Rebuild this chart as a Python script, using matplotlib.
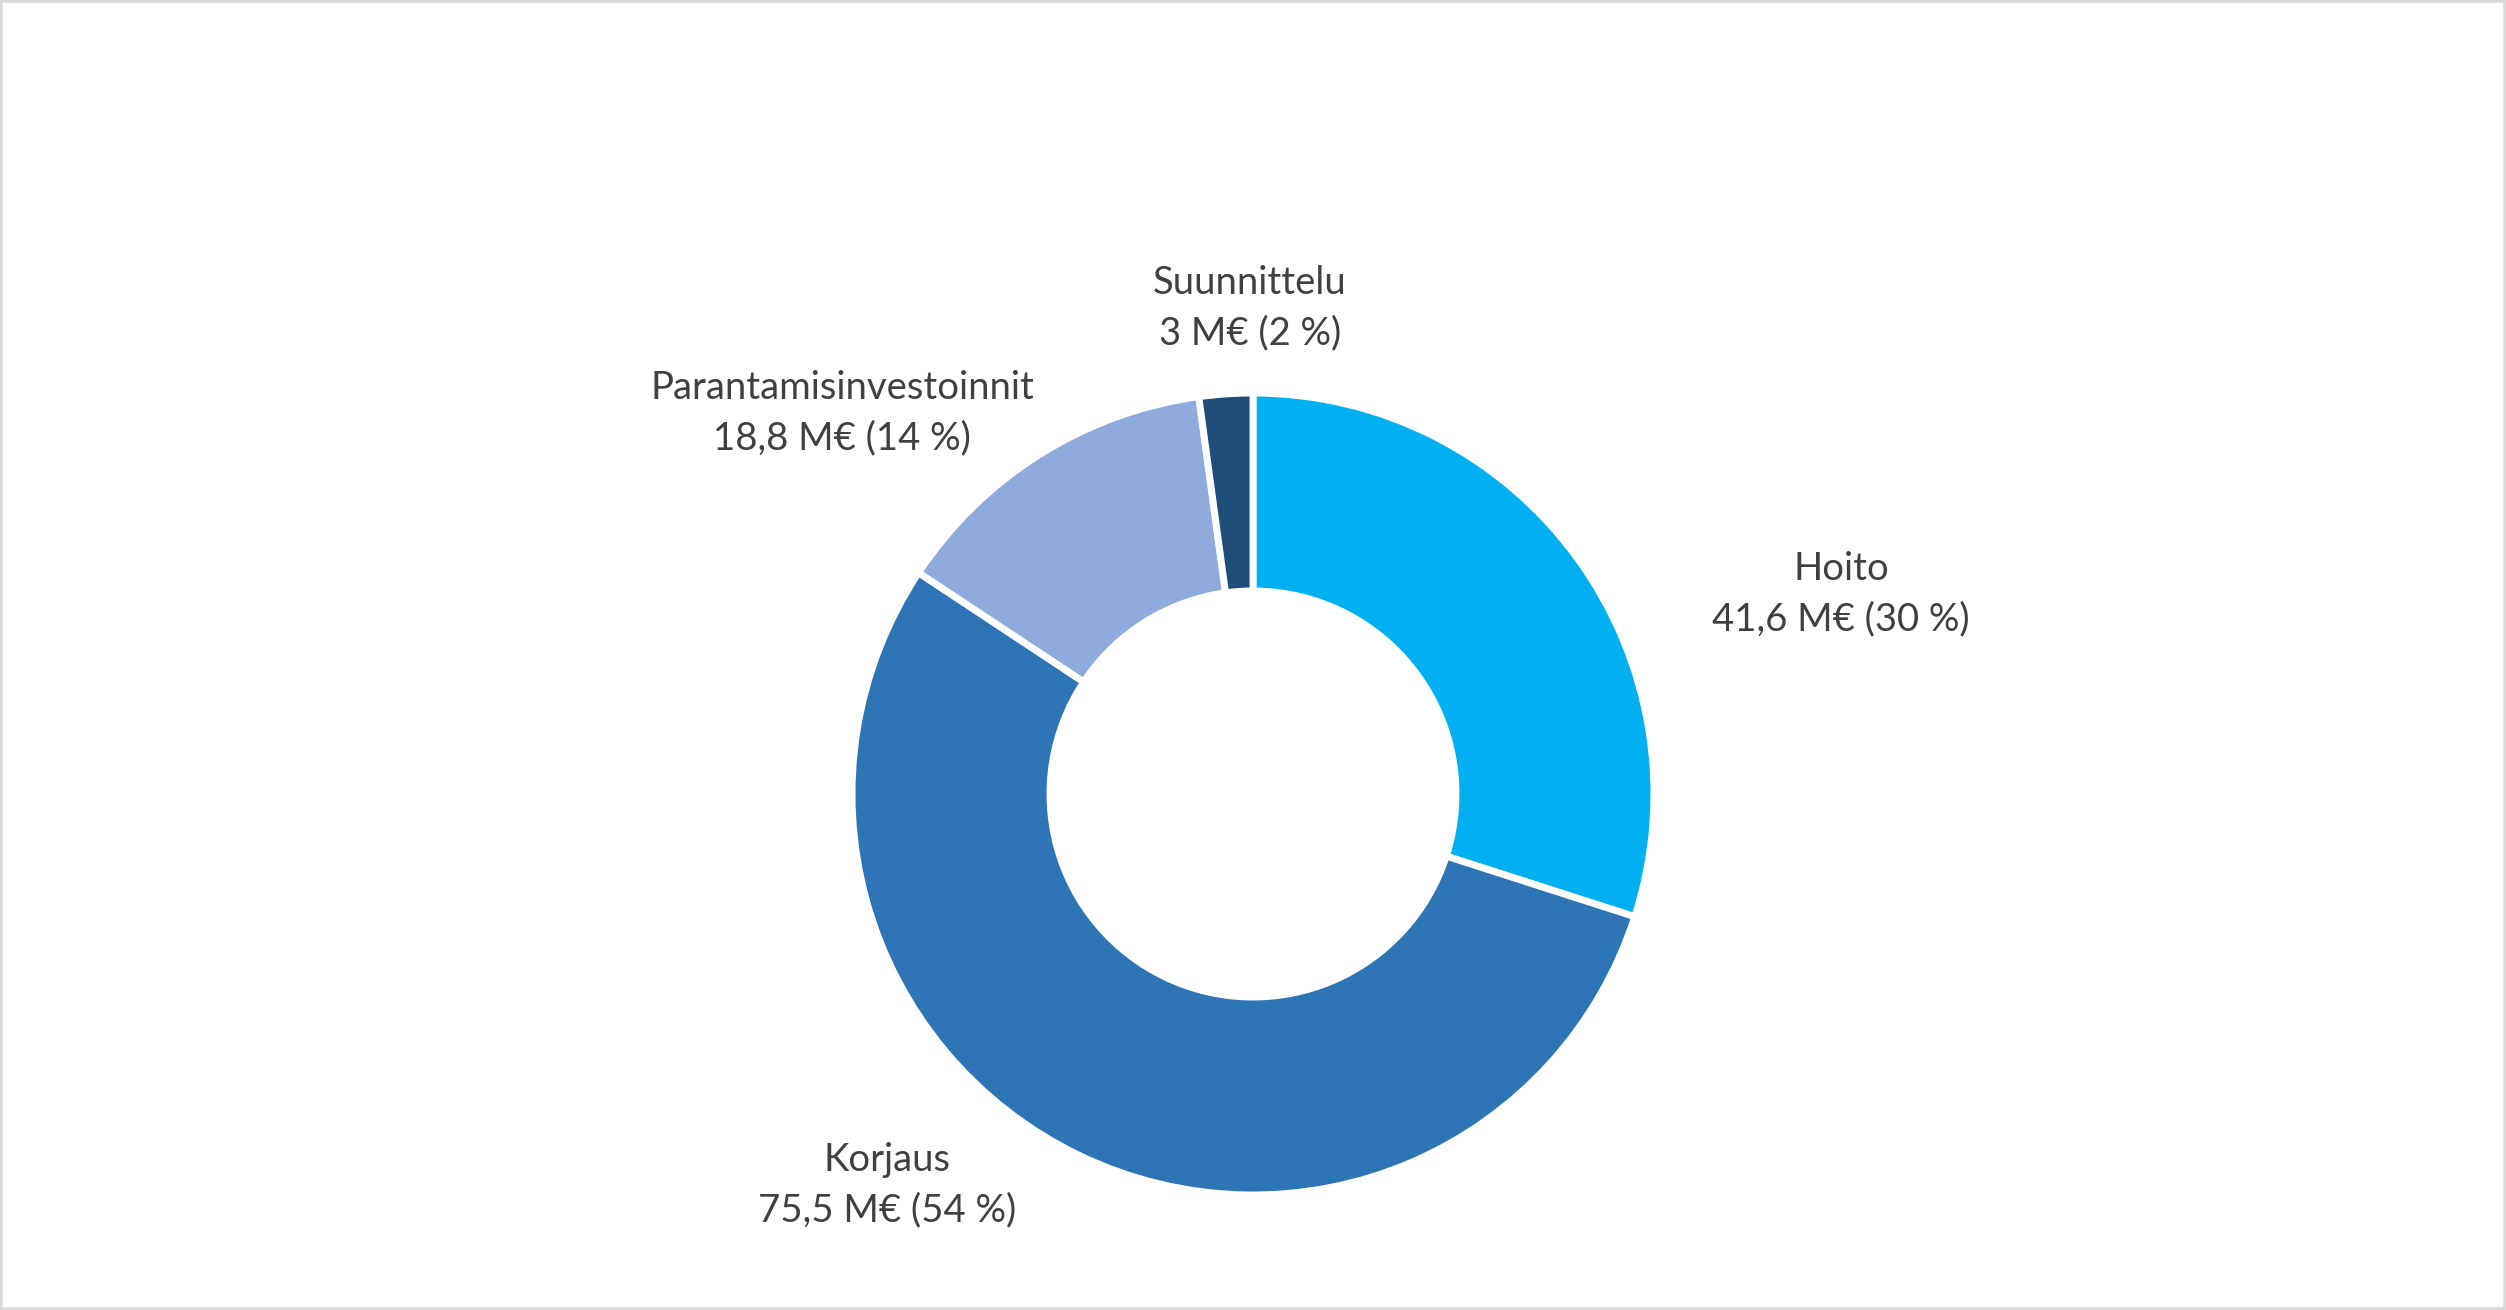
import matplotlib
matplotlib.use("Agg")
import matplotlib.pyplot as plt
from matplotlib.patches import Rectangle

categories = ["Hoito", "Korjaus", "Parantamisinvestoinnit", "Suunnittelu"]
values = [41.6, 75.5, 18.8, 3.0]
value_labels = ["41,6", "75,5", "18,8", "3"]
colors = ["#00B0F0", "#2E75B6", "#8FAADC", "#1F4E79"]

plt.rcParams['font.family'] = ['Lato', 'DejaVu Sans']

W, H = 2506, 1310
fig = plt.figure(figsize=(W / 100, H / 100), dpi=100)
ax = fig.add_axes([0, 0, 1, 1])

cx, cy, R = 1253, H - 794, 401
ax.pie(values, colors=colors, startangle=90, counterclock=False,
       radius=R, center=(cx, cy), frame=True,
       wedgeprops=dict(width=R - 203, edgecolor='white', linewidth=5))
ax.set_xlim(0, W)
ax.set_ylim(0, H)
ax.set_aspect('equal')
ax.axis('off')

total = sum(values)
label_pos = [(1841, 594), (887, 1185), (842, 413), (1250, 308)]
for cat, vl, v, (x, y) in zip(categories, value_labels, values, label_pos):
    pct = round(v / total * 100)
    ax.text(x, H - y, f"{cat}\n{vl} M€ ({pct} %)", ha='center', va='center',
            fontsize=27.5, color='#404040', linespacing=1.5)

fig.patches.append(Rectangle((0, 0), 1, 1, transform=fig.transFigure,
                             fill=False, edgecolor='#D9D9D9', linewidth=4))
fig.savefig("out.png", dpi=100, facecolor='white')
